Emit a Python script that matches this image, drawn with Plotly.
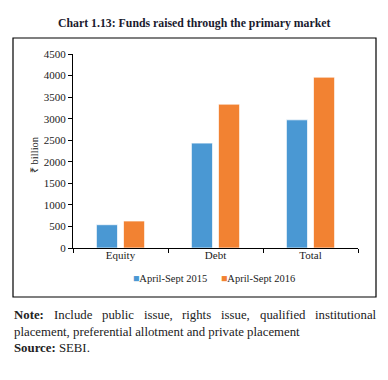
import plotly.graph_objects as go

categories = ["Equity", "Debt", "Total"]
series_names = ["April-Sept 2015", "April-Sept 2016"]
values_2015 = [540, 2433, 2973]
values_2016 = [626, 3337, 3963]
colors = ["#4A98D3", "#F28232"]

OFF = 8  # page body margin
W, H = 388 - 2 * OFF, 380 - 2 * OFF
# plot area in screen pixels: x 73..358, y 54..248
L, T = 73 - OFF, 54 - OFF
R = W - (358 - OFF)
B = H - (248 - OFF)
pw, ph = W - L - R, H - T - B

def px(x):
    return (x - OFF - L) / pw

def py(y):
    return (H - B - (y - OFF)) / ph

serif = "Liberation Serif"
txt = "#222"

fig = go.Figure()
for name, vals, c in zip(series_names, [values_2015, values_2016], colors):
    fig.add_trace(go.Bar(
        x=categories, y=vals, name=name,
        marker=dict(color=c, line=dict(color="rgba(255,255,255,0.7)", width=1)),
    ))

fig.update_layout(
    width=W, height=H,
    margin=dict(l=L, r=R, t=T, b=B),
    paper_bgcolor="white", plot_bgcolor="white",
    barmode="group", bargap=0.43, bargroupgap=0.22,
    font=dict(family=serif, color=txt, size=10),
    showlegend=False,
    xaxis=dict(showline=True, linecolor="black", linewidth=1, ticks="outside",
               tickson="boundaries", ticklen=4, tickcolor="black", ticklabelstandoff=-3,
               tickfont=dict(size=11, family=serif, color=txt), showgrid=False),
    yaxis=dict(range=[0, 4500], dtick=500, showline=True, linecolor="black", linewidth=1,
               ticks="outside", ticklen=4, tickcolor="black", showgrid=False,
               zeroline=False, tickfont=dict(size=11, family=serif, color=txt)),
)

# frame
fig.add_shape(type="rect", xref="paper", yref="paper",
              x0=px(13), x1=px(376), y0=py(297), y1=py(38),
              line=dict(color="black", width=1.2), fillcolor="rgba(0,0,0,0)", layer="below")

ann = []
ann.append(dict(text="<b>Chart 1.13: Funds raised through the primary market</b>",
                x=px(194), y=py(23), xanchor="center", yanchor="middle",
                font=dict(size=11.8, family=serif, color="#1a1a2e")))
ann.append(dict(text="₹ billion", x=px(34), y=py(155), textangle=-90,
                xanchor="center", yanchor="middle", font=dict(size=10.5, family=serif, color=txt)))

# legend (built from series names and colours)
leg_x = [131, 219]
for name, c, x in zip(series_names, colors, leg_x):
    ann.append(dict(text=f"<span style='color:{c}'>■</span>{name}", x=px(x), y=py(278),
                    xanchor="left", yanchor="middle",
                    font=dict(size=10.5, family=serif, color=txt)))

# justified first note line (word start positions)
note_words = [("<b>Note:</b>", 12), ("Include", 51.6), ("public", 99.8), ("issue,", 141.6),
              ("rights", 180.2), ("issue,", 219.2), ("qualified", 257.8), ("institutional", 313.1)]
for w, x in note_words:
    ann.append(dict(text=w, x=px(x), y=py(315), xanchor="left", yanchor="middle",
                    font=dict(size=12.8, family=serif, color=txt)))
ann.append(dict(text="placement, preferential allotment and private placement",
                x=px(12), y=py(332), xanchor="left", yanchor="middle",
                font=dict(size=12.8, family=serif, color=txt)))
ann.append(dict(text="<b>Source:</b> SEBI.", x=px(12), y=py(348), xanchor="left", yanchor="middle",
                font=dict(size=12.8, family=serif, color=txt)))

for a in ann:
    a.update(xref="paper", yref="paper", showarrow=False)
fig.update_layout(annotations=ann)

fig.write_html("out.html")
